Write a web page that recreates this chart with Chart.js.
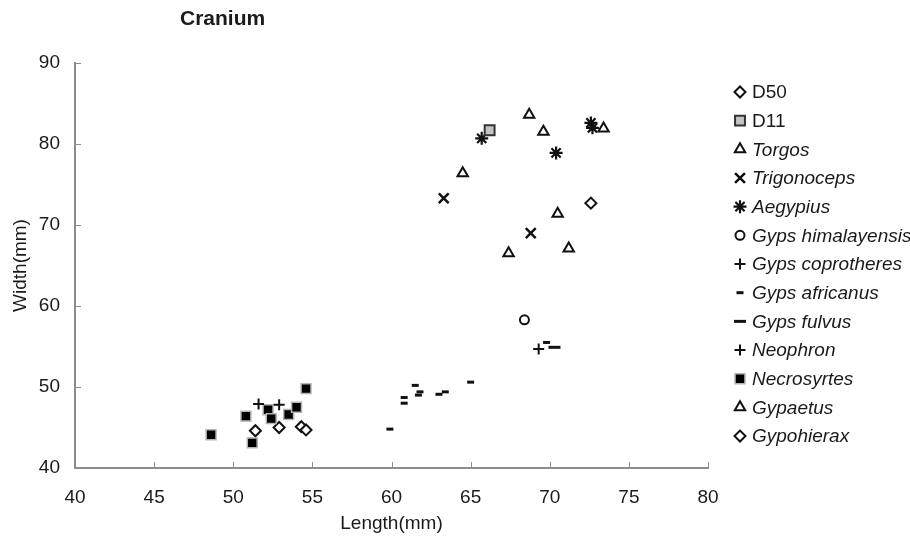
<!DOCTYPE html>
<html>
<head>
<meta charset="utf-8">
<title>Cranium</title>
<script src="https://cdn.jsdelivr.net/npm/chart.js@4.4.0/dist/chart.umd.min.js"></script>
<style>
html, body { margin: 0; padding: 0; background: #fff; }
</style>
</head>
<body>
<canvas id="cranium_chart" width="910" height="537"></canvas>
<script>
// Données : [longueur, largeur] en mm
var d50 = [[72.6, 72.7]];
var d11 = [[66.2, 81.7]];
var torgos = [[68.7, 83.6], [69.6, 81.5], [73.4, 81.9]];
var trigonoceps = [[63.3, 73.3], [68.8, 69.0]];
var aegypius = [[65.7, 80.7], [70.4, 78.9], [72.6, 82.6], [72.7, 82.0]];
var gypsHimalayensis = [[68.4, 58.3]];
var gypsCoprotheres = [[69.3, 54.7]];
var gypsAfricanus = [[59.9, 44.8], [60.8, 48.7], [60.8, 48.0], [61.5, 50.2], [61.8, 49.4], [61.7, 49.0], [63.0, 49.1], [63.4, 49.4], [65.0, 50.6], [69.8, 55.5]];
var gypsFulvus = [[70.3, 54.9]];
var neophron = [[51.6, 47.9], [52.9, 47.8]];
var necrosyrtes = [[48.6, 44.1], [50.8, 46.4], [51.2, 43.1], [52.2, 47.2], [52.4, 46.1], [53.5, 46.6], [54.0, 47.5], [54.6, 49.8]];
var gypaetus = [[64.5, 76.4], [70.5, 71.4], [67.4, 66.5], [71.2, 67.1]];
var gypohierax = [[51.4, 44.6], [52.9, 45.0], [54.3, 45.1], [54.6, 44.7]];

var seriesNames = ['D50', 'D11', 'Torgos', 'Trigonoceps', 'Aegypius', 'Gyps himalayensis', 'Gyps coprotheres',
	'Gyps africanus', 'Gyps fulvus', 'Neophron', 'Necrosyrtes', 'Gypaetus', 'Gypohierax'];
var seriesData = [d50, d11, torgos, trigonoceps, aegypius, gypsHimalayensis, gypsCoprotheres,
	gypsAfricanus, gypsFulvus, neophron, necrosyrtes, gypaetus, gypohierax];
var xTicks = [40, 45, 50, 55, 60, 65, 70, 75, 80];
var yTicks = [40, 50, 60, 70, 80, 90];

// Style de chaque série (forme, taille, couleurs)
var styles = [
	{ shape: 'rectRot', r: 5.5, fill: '#fff', line: '#111', w: 2, italic: false },
	{ shape: 'rect', r: 7, fill: '#c4c4c4', line: '#333', w: 2, italic: false },
	{ shape: 'triangle', r: 6, fill: '#fff', line: '#111', w: 2, italic: true },
	{ shape: 'crossRot', r: 7, fill: '#fff', line: '#111', w: 2.5, italic: true },
	{ shape: 'star', r: 6.5, fill: '#fff', line: '#111', w: 2.2, italic: true },
	{ shape: 'circle', r: 4.5, fill: '#fff', line: '#111', w: 2, italic: true },
	{ shape: 'cross', r: 5.5, fill: '#fff', line: '#111', w: 2, italic: true },
	{ shape: 'line', r: 3.5, fill: '#fff', line: '#111', w: 3, italic: true },
	{ shape: 'line', r: 6, fill: '#fff', line: '#111', w: 3, italic: true },
	{ shape: 'cross', r: 5.5, fill: '#fff', line: '#111', w: 2, italic: true },
	{ shape: 'rect', r: 7, fill: '#000', line: '#b4b4b4', w: 1.5, italic: true },
	{ shape: 'triangle', r: 6, fill: '#fff', line: '#111', w: 2, italic: true },
	{ shape: 'rectRot', r: 5.5, fill: '#fff', line: '#111', w: 2, italic: true }
];

var datasets = seriesNames.map(function (name, i) {
	var s = styles[i];
	return {
		label: name,
		data: seriesData[i].map(function (p) { return { x: p[0], y: p[1] }; }),
		pointStyle: s.shape,
		pointRadius: s.r,
		backgroundColor: s.fill,
		borderColor: s.line,
		borderWidth: s.w,
		italic: s.italic
	};
});

var FONT = '"Liberation Sans", Arial, sans-serif';
var TEXT = '#1a1a1a';
var AXIS = '#8c8c8c';

// Titre, petites graduations intérieures et légende à droite
var decor = {
	id: 'decor',
	afterDraw: function (chart) {
		var ctx = chart.ctx;
		var area = chart.chartArea;
		var sx = chart.scales.x, sy = chart.scales.y;

		ctx.save();
		ctx.strokeStyle = AXIS;
		ctx.lineWidth = 1;
		ctx.beginPath();
		sx.ticks.forEach(function (t) {
			var px = Math.round(sx.getPixelForValue(t.value)) + 0.5;
			ctx.moveTo(px, area.bottom);
			ctx.lineTo(px, area.bottom - 6);
		});
		sy.ticks.forEach(function (t) {
			var py = Math.round(sy.getPixelForValue(t.value)) + 0.5;
			ctx.moveTo(area.left, py);
			ctx.lineTo(area.left + 6, py);
		});
		ctx.stroke();

		ctx.fillStyle = TEXT;
		ctx.font = 'bold 21px ' + FONT;
		ctx.textBaseline = 'middle';
		ctx.textAlign = 'left';
		ctx.fillText('Cranium', 180, 19);

		chart.data.datasets.forEach(function (ds, i) {
			var y = 92 + i * 28.67;
			ctx.save();
			ctx.fillStyle = ds.backgroundColor;
			ctx.strokeStyle = ds.borderColor;
			ctx.lineWidth = ds.borderWidth;
			Chart.helpers.drawPoint(ctx, { pointStyle: ds.pointStyle, radius: ds.pointRadius, borderWidth: ds.borderWidth, rotation: 0 }, 740, y);
			ctx.restore();
			ctx.fillStyle = TEXT;
			ctx.font = (ds.italic ? 'italic ' : '') + '19px ' + FONT;
			ctx.textBaseline = 'middle';
			ctx.fillText(ds.label, 752, y + 1);
		});
		ctx.restore();
	}
};

var chart = new Chart(document.getElementById('cranium_chart'), {
	type: 'scatter',
	data: { datasets: datasets },
	options: {
		responsive: false,
		animation: false,
		events: [],
		layout: { padding: { top: 63, right: 202, bottom: 0, left: 0 } },
		plugins: { legend: { display: false }, tooltip: { enabled: false } },
		scales: {
			x: {
				min: 40, max: 80,
				afterBuildTicks: function (s) { s.ticks = xTicks.map(function (v) { return { value: v }; }); },
				afterFit: function (s) { s.height = 69; },
				grid: { display: false },
				border: { display: true, color: AXIS, width: 2 },
				ticks: { padding: 10, color: TEXT, font: { family: FONT, size: 19 } },
				title: { display: true, text: 'Length(mm)', color: TEXT, font: { family: FONT, size: 19 }, padding: { top: 0, bottom: 2 } }
			},
			y: {
				min: 40, max: 90,
				afterBuildTicks: function (s) { s.ticks = yTicks.map(function (v) { return { value: v }; }); },
				afterFit: function (s) { s.width = 75; },
				grid: { display: false },
				border: { display: true, color: AXIS, width: 2 },
				ticks: { padding: 7, color: TEXT, font: { family: FONT, size: 19 } },
				title: { display: true, text: 'Width(mm)', color: TEXT, font: { family: FONT, size: 19 }, padding: { top: 9, bottom: 0 } }
			}
		}
	},
	plugins: [decor]
});
</script>
</body>
</html>
